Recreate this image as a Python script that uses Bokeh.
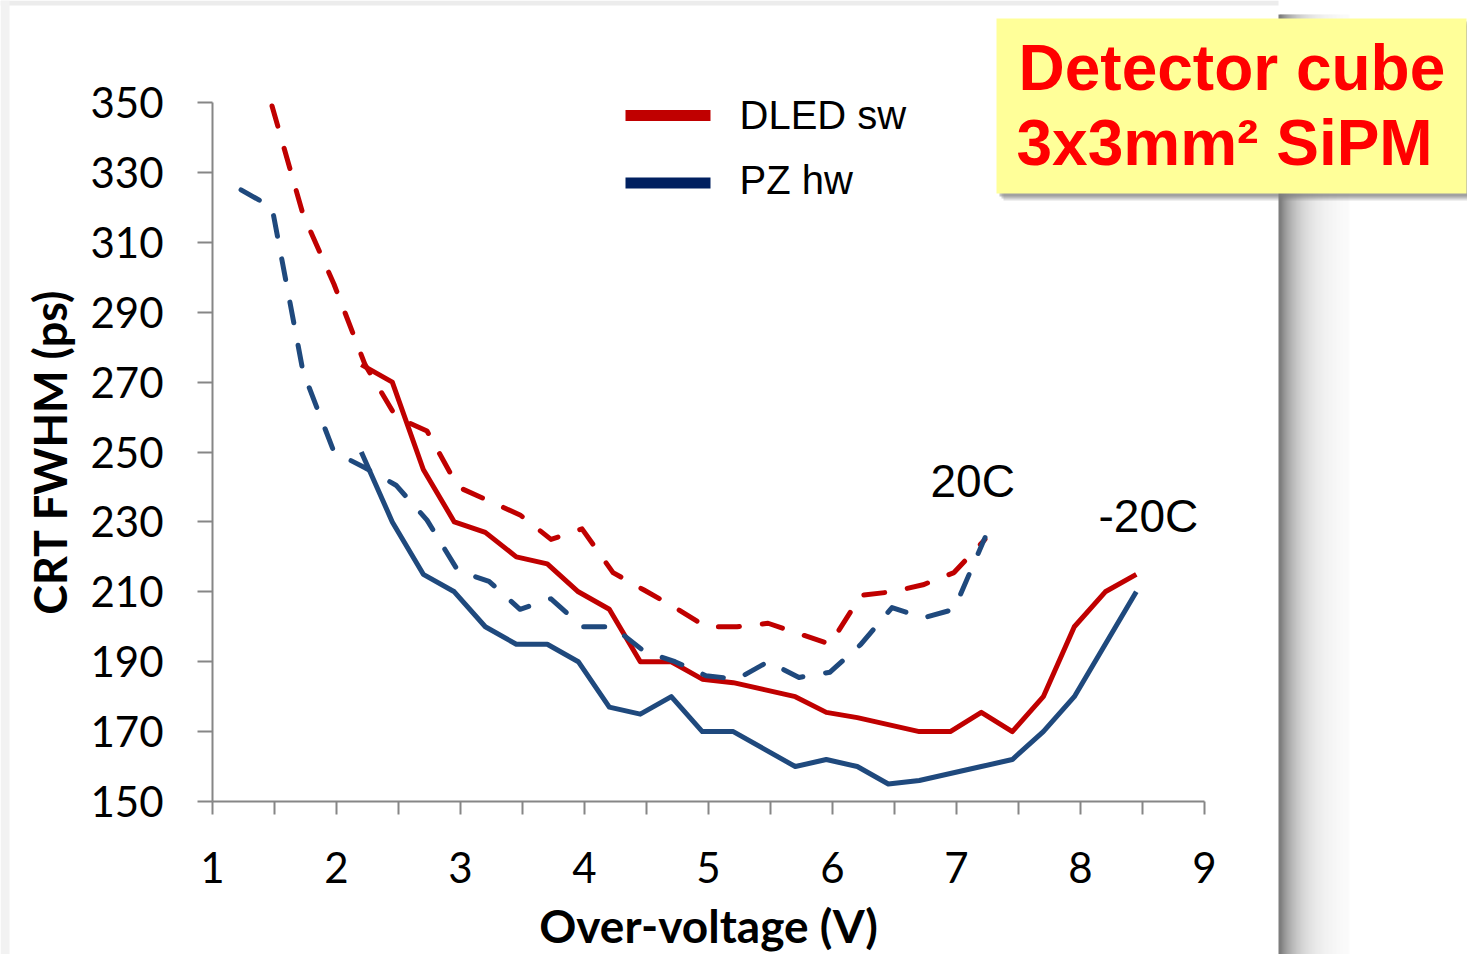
import numpy as np
from bokeh.plotting import figure
from bokeh.models import Range1d, LinearAxis, FixedTicker
from bokeh.core.properties import value
from bokeh.embed import file_html
from bokeh.resources import INLINE

# ---------------- data ----------------
nan = float("nan")
# -20C measurements
ov_cold = [2.2, 2.45, 2.7, 2.95, 3.2, 3.45, 3.7, 3.95, 4.2, 4.45, 4.7, 4.95, 5.2,
           5.45, 5.7, 5.95, 6.2, 6.45, 6.7, 6.95, 7.2, 7.45, 7.7, 7.95, 8.2, 8.45]
dled_cold = [275, 270, 245, 230, 227, 220, 218, 210, 205, 190, 190, 185, 184,
             182, 180, 175.5, 174, 172, 170, 170, 175.5, 170, 180, 200, 210, 215]
pz_cold = [250, 230, 215, 210, 200, 195, 195, 190, 177, 175, 180, 170, 170,
           165, 160, 162, 160, 155, 156, 158, 160, 162, 170, 180, 195, 210]
# 20C measurements
ov_warm = [1.23, 1.48, 1.73, 1.98, 2.23, 2.48, 2.73, 2.98, 3.23, 3.48, 3.73, 3.98,
           4.23, 4.48, 4.73, 4.98, 5.23, 5.48, 5.73, 5.98, 6.23, 6.48, 6.73, 6.98, 7.23]
dled_warm = [nan, 349, 318, 298, 275, 260, 256, 240, 236, 232, 225, 228,
             215.5, 210.5, 205.5, 200, 200, 201, 198, 195, 209, 210, 212, 215.5, 225]
pz_warm = [325, 320, 273, 250, 245.5, 240.5, 230.5, 216, 213, 205, 208, 200,
           200, 193, 190, 186, 185, 190, 185.5, 187, 195, 205.5, 202.5, 205, 225.5]

x_ticks = [1, 2, 3, 4, 5, 6, 7, 8, 9]
x_minor_ticks = [1.5, 2.5, 3.5, 4.5, 5.5, 6.5, 7.5, 8.5]
y_ticks = [150, 170, 190, 210, 230, 250, 270, 290, 310, 330, 350]
legend_labels = ["DLED sw", "PZ hw"]
legend_colors = ["#C00000", "#002060"]
temp_labels = ["20C", "-20C"]
box_lines = ["Detector cube", "3x3mm\u00b2 SiPM"]

RED = "#C00000"
BLUE = "#1F497D"

# ---------------- layout (pixels of the page) ----------------
W, H = 1467, 954
PX_L, PX_R = 212, 1204      # x = 1 .. 9
PY_B, PY_T = 801, 102       # y = 150 .. 350
sx = (PX_R - PX_L) / 8.0
sy = (PY_B - PY_T) / 200.0


def dx(px):
    return 1 + (px - PX_L) / sx


def dy(py):
    return 150 + (PY_B - py) / sy


p = figure(width=W, height=H, output_backend="svg", toolbar_location=None,
           x_range=Range1d(dx(0), dx(W)), y_range=Range1d(dy(H), dy(0)),
           x_axis_type=None, y_axis_type=None, min_border=0)
p.outline_line_color = None
p.background_fill_color = "white"
p.border_fill_color = "white"

# ---------------- page decorations (card shadow) ----------------
p.quad(left=[dx(0)], right=[dx(1278)], top=[dy(0)], bottom=[dy(5)],
       fill_color="#ECECEC", line_color=None)
p.quad(left=[dx(0)], right=[dx(9)], top=[dy(0)], bottom=[dy(H)],
       fill_color="#F2F2F2", line_color=None)
edges = np.arange(1346, 1277, -2)
for e in edges:
    g = int(round(255 - (255 - 125) * np.exp(-(e - 1278) / 20.0)))
    col = "#%02x%02x%02x" % (g, g, g)
    p.quad(left=[dx(e)], right=[dx(e + 3)], top=[dy(14)], bottom=[dy(H)],
           fill_color=col, line_color=None)

# ---------------- axes ----------------
xaxis = LinearAxis(fixed_location=150, bounds=(1, 9),
                   ticker=FixedTicker(ticks=x_ticks, minor_ticks=x_minor_ticks))
yaxis = LinearAxis(fixed_location=1, bounds=(150, 350),
                   ticker=FixedTicker(ticks=y_ticks, minor_ticks=[]))
for ax in (xaxis, yaxis):
    ax.axis_line_color = "#868686"
    ax.axis_line_width = 2
    ax.major_tick_line_color = "#868686"
    ax.major_tick_line_width = 2
    ax.minor_tick_line_color = "#868686"
    ax.minor_tick_line_width = 2
    ax.major_tick_in = 0
    ax.minor_tick_in = 0
    ax.major_label_text_font = "Lato"
    ax.major_label_text_font_size = "42px"
    ax.major_label_text_color = "black"
    ax.axis_label_text_font = "Lato"
    ax.axis_label_text_font_style = "bold"
    ax.axis_label_text_font_size = "45px"
    ax.axis_label_text_color = "black"
xaxis.major_tick_out = 13
xaxis.minor_tick_out = 13
yaxis.major_tick_out = 15
yaxis.minor_tick_out = 0
xaxis.major_label_standoff = 37
yaxis.major_label_standoff = 34
xaxis.axis_label = "Over-voltage (V)"
yaxis.axis_label = "CRT FWHM (ps)"
xaxis.axis_label_standoff = 12
yaxis.axis_label_standoff = 10
xaxis.axis_label_text_font_size = "46px"
p.add_layout(xaxis, "below")
p.add_layout(yaxis, "left")

# ---------------- data lines ----------------
p.line(ov_cold, dled_cold, line_color=RED, line_width=5, line_join="round")
p.line(ov_cold, pz_cold, line_color=BLUE, line_width=5, line_join="round")
p.line(ov_warm, dled_warm, line_color=RED, line_width=5, line_join="round",
       line_cap="round", line_dash="21 23")
p.line(ov_warm, pz_warm, line_color=BLUE, line_width=5, line_join="round",
       line_cap="round", line_dash="21 23")

# ---------------- legend (drawn manually) ----------------
leg_y = [dy(115), dy(182.5)]
p.segment(x0=[dx(625)] * 2, x1=[dx(710)] * 2, y0=leg_y, y1=leg_y,
          line_color=legend_colors, line_width=11)
p.text(x=[dx(739)] * 2, y=[dy(114), dy(179.5)], text=legend_labels,
       text_font=value("Liberation Sans"), text_font_size="40px",
       text_color="black", text_baseline="alphabetic", text_align="left")

# ---------------- temperature labels ----------------
p.text(x=[dx(930), dx(1098)], y=[dy(480.5), dy(515.5)], text=temp_labels,
       text_font=value("Liberation Sans"), text_font_size="46px",
       text_color="black", text_baseline="alphabetic", text_align="left")

# ---------------- title box ----------------
for off, a in [(7, 0.25), (5, 0.35), (3, 0.45)]:
    p.quad(left=[dx(996 + off)], right=[dx(1466 + off)], top=[dy(18 + off)],
           bottom=[dy(193 + off)], fill_color="#7F7F7F", fill_alpha=a,
           line_color=None)
p.quad(left=[dx(996)], right=[dx(1466)], top=[dy(18)], bottom=[dy(193)],
       fill_color="#FFFF99", line_color=None)
p.text(x=[dx(1018), dx(1016)], y=[dy(67.5), dy(142.5)], text=box_lines,
       text_font=value("Liberation Sans"), text_font_style="bold",
       text_font_size="64px", text_color="#FF0000",
       text_baseline="alphabetic", text_align="left")

open("out.html", "w").write(file_html(p, INLINE))
